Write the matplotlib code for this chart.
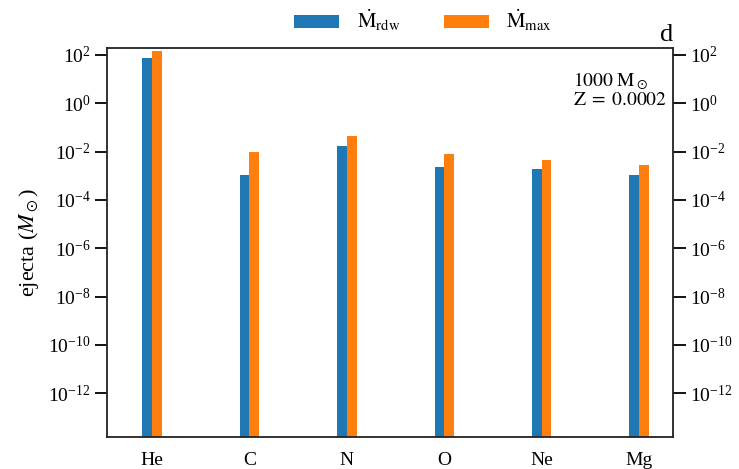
import matplotlib
matplotlib.use("Agg")
import matplotlib.pyplot as plt
import numpy as np

plt.rcParams["font.family"] = ["Liberation Serif", "DejaVu Serif"]
plt.rcParams["mathtext.fontset"] = "stix"

# Ejected mass per element (solar masses)
elements = ["He", "C", "N", "O", "Ne", "Mg"]
ejecta_rdw = [73, 1.07e-3, 1.7e-2, 2.3e-3, 1.95e-3, 1.05e-3]
ejecta_max = [150, 9.5e-3, 4.6e-2, 8.0e-3, 4.5e-3, 2.8e-3]
ytick_values = [1e2, 1e0, 1e-2, 1e-4, 1e-6, 1e-8, 1e-10, 1e-12]
series_labels = [r"$\dot{\mathrm{M}}_{\mathrm{rdw}}$", r"$\dot{\mathrm{M}}_{\mathrm{max}}$"]

fig = plt.figure(figsize=(7.39, 4.69), dpi=100)
ax = fig.add_axes([0.1452, 0.0676, 0.7659, 0.8307])

x = np.arange(len(elements))
w = 0.1
ax.bar(x - w / 2, ejecta_rdw, width=w, color="#1f77b4", label=series_labels[0])
ax.bar(x + w / 2, ejecta_max, width=w, color="#ff7f0e", label=series_labels[1])

ax.set_yscale("log")
ax.set_ylim(1.5e-14, 200)
ax.set_xlim(-0.458, 5.35)
ax.set_yticks(ytick_values)
ax.yaxis.set_minor_locator(matplotlib.ticker.NullLocator())
ax.set_xticks(x)
ax.set_xticklabels(elements)

ax.tick_params(axis="y", which="major", direction="out", length=9, width=1.3,
               labelsize=14, left=True, right=True, labelleft=True, labelright=True, pad=3)
ax.tick_params(axis="x", length=0, labelsize=14, pad=10.5)

for sp in ax.spines.values():
    sp.set_linewidth(1.3)
    sp.set_color("#222222")

ax.set_ylabel(r"ejecta ($M_\odot$)", fontsize=16, labelpad=5)

ax.text(1.0, 1.005, "d", transform=ax.transAxes, ha="right", va="bottom", fontsize=19)
ax.text(0.822, 0.94, "$1000\\ \\mathrm{M}_\\odot$\n$\\mathrm{Z}\\;=\\;0.0002$",
        transform=ax.transAxes, ha="left", va="top", fontsize=14, linespacing=0.95)

ax.legend(loc="center", bbox_to_anchor=(0.558, 1.0685), ncol=2, frameon=False,
          fontsize=15, handlelength=2.16, handleheight=0.58, handletextpad=0.85,
          columnspacing=2.1)

fig.savefig("out.png", dpi=100)
